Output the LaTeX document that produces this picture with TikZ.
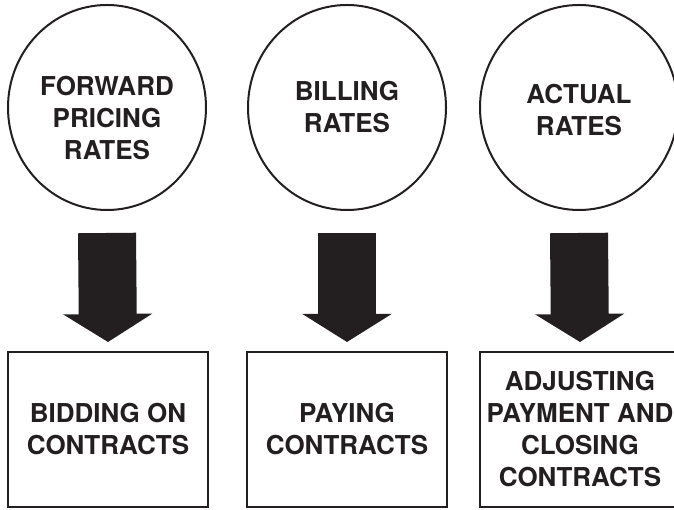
\documentclass[tikz,border=0pt]{standalone}
\usepackage{fontspec}
\setmainfont{TeX Gyre Heros}
\usetikzlibrary{arrows.meta,positioning,shapes.geometric}
\definecolor{RateInk}{HTML}{231F20}

\begin{document}
\begin{tikzpicture}[
    x=1pt, y=1pt,
    rate/.style={
      ellipse,
      draw=RateInk,
      line width=2pt,
      minimum width=198pt,
      minimum height=205pt,
      inner sep=0pt,
      text=RateInk,
      font=\bfseries\fontsize{26}{32}\selectfont,
      align=center
    },
    use/.style={
      draw=RateInk,
      line width=2pt,
      minimum width=200pt,
      minimum height=155pt,
      inner sep=0pt,
      text=RateInk,
      font=\bfseries\fontsize{26}{32}\selectfont,
      align=center
    },
    bigarr/.style={
      -{Triangle[length=28pt,width=88pt]},
      line width=58pt,
      color=RateInk
    }
  ]
  \useasboundingbox (0,0) rectangle (674,510);
  \clip (0,0) rectangle (674,510);

  % Rates
  \node[rate, text height=105pt] (fwd)  at (107,402.5) {FORWARD\\PRICING\\RATES};
  \node[rate]                    (bill) at (347,402.5) {BILLING\\RATES};
  \node[rate, text height=57pt]  (act)  at (579,402.5) {ACTUAL\\RATES};

  % Uses
  \node[use] (bid)    at (108,80.5) {BIDDING ON\\CONTRACTS};
  \node[use] (pay)    at (347,80.5) {PAYING\\CONTRACTS};
  \node[use] (adjust) at (580,80.5) {ADJUSTING\\PAYMENT AND\\CLOSING\\CONTRACTS};

  % Arrows
  \draw[bigarr] ([yshift=-22pt]fwd.south)  -- ([yshift=9pt]bid.north);
  \draw[bigarr] ([yshift=-22pt]bill.south) -- ([yshift=9pt]pay.north);
  \draw[bigarr] ([yshift=-22pt]act.south)  -- ([yshift=9pt]adjust.north);

\end{tikzpicture}
\end{document}
